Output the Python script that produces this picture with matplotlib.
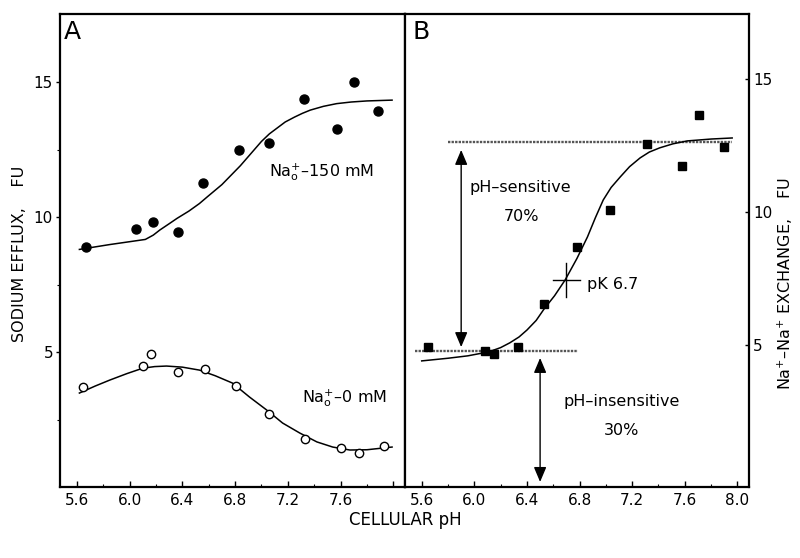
import matplotlib
matplotlib.use("Agg")
import matplotlib.pyplot as plt
from matplotlib.ticker import MultipleLocator, FixedLocator

plt.rcParams['font.family'] = ['DejaVu Sans']

# ---- Panel A data ----
a_na150_ph = [5.67, 6.05, 6.18, 6.37, 6.56, 6.83, 7.06, 7.32, 7.57, 7.70, 7.88]
a_na150_val = [8.89, 9.56, 9.81, 9.44, 11.27, 12.50, 12.76, 14.37, 13.26, 15.00, 13.94]
a_na150_fit_ph = [5.62, 5.85, 6.12, 6.18, 6.23, 6.30, 6.36, 6.45, 6.53, 6.59, 6.70, 6.78, 6.84, 6.92,
                  7.00, 7.06, 7.12, 7.18, 7.25, 7.31, 7.37, 7.47, 7.57, 7.68, 7.80, 7.99]
a_na150_fit_val = [8.80, 8.98, 9.17, 9.33, 9.52, 9.75, 9.95, 10.22, 10.50, 10.75, 11.20, 11.60, 11.90, 12.35,
                   12.80, 13.08, 13.30, 13.52, 13.70, 13.84, 13.96, 14.10, 14.20, 14.26, 14.30, 14.33]

a_na0_ph = [5.65, 6.10, 6.16, 6.37, 6.57, 6.81, 7.06, 7.33, 7.60, 7.74, 7.93]
a_na0_val = [3.70, 4.48, 4.93, 4.26, 4.37, 3.74, 2.70, 1.78, 1.44, 1.26, 1.52]
a_na0_fit_ph = [5.62, 5.74, 5.85, 5.98, 6.10, 6.19, 6.28, 6.40, 6.53, 6.65, 6.78, 6.91, 7.04, 7.16,
                7.29, 7.42, 7.54, 7.67, 7.80, 7.99]
a_na0_fit_val = [3.48, 3.74, 3.96, 4.20, 4.40, 4.46, 4.48, 4.44, 4.33, 4.12, 3.85, 3.33, 2.85, 2.37,
                 2.00, 1.67, 1.48, 1.37, 1.38, 1.48]

# ---- Panel B data ----
b_ph = [5.65, 6.08, 6.15, 6.33, 6.53, 6.78, 7.03, 7.31, 7.58, 7.71, 7.90]
b_val = [4.92, 4.77, 4.66, 4.92, 6.54, 8.68, 10.08, 12.56, 11.73, 13.65, 12.44]
b_fit_ph = [5.60, 5.80, 5.95, 6.11, 6.20, 6.27, 6.34, 6.40, 6.47, 6.53, 6.61, 6.69, 6.78, 6.86,
            6.92, 6.98, 7.04, 7.11, 7.18, 7.26, 7.33, 7.41, 7.51, 7.62, 7.80, 7.96]
b_fit_val = [4.40, 4.50, 4.59, 4.74, 4.90, 5.08, 5.30, 5.56, 5.92, 6.35, 6.85, 7.44, 8.25, 9.06,
             9.78, 10.45, 10.92, 11.32, 11.70, 12.03, 12.25, 12.41, 12.56, 12.67, 12.74, 12.78]
b_upper_level = 12.63
b_upper_range = [5.80, 7.96]
b_lower_level = 4.77
b_lower_range = [5.55, 6.79]
pk_ph, pk_val = 6.70, 7.44

x_major = [5.6, 6.0, 6.4, 6.8, 7.2, 7.6, 8.0]
x_labels_a = ["5.6", "6.0", "6.4", "6.8", "7.2", "7.6", ""]
x_labels_b = ["5.6", "6.0", "6.4", "6.8", "7.2", "7.6", "8.0"]
y_major = [5, 10, 15]
y_labels = ["5", "10", "15"]

fig = plt.figure(figsize=(8, 5.58), dpi=100)
W, H = 800, 558
def rect(l, r, t, b):
    return [l / W, 1 - b / H, (r - l) / W, (b - t) / H]

axA = fig.add_axes(rect(60, 405, 14, 487))
axB = fig.add_axes(rect(405, 749, 14, 487))

xlim = (5.473, 8.088)
for ax in (axA, axB):
    ax.set_xlim(*xlim)
    for s in ax.spines.values():
        s.set_linewidth(1.6)
    ax.set_xticks(x_major)
    ax.xaxis.set_minor_locator(MultipleLocator(0.2))
    ax.tick_params(axis='x', which='major', direction='in', length=4, width=1, labelsize=11, pad=4)
    ax.tick_params(axis='x', which='minor', direction='in', length=2.5, width=0.8)

axA.set_ylim(0, 17.52)
axB.set_ylim(-0.34, 17.44)

axA.set_xticklabels(x_labels_a)
axB.set_xticklabels(x_labels_b)

axA.set_yticks(y_major)
axA.set_yticklabels(y_labels)
axA.yaxis.set_minor_locator(FixedLocator([2.5, 7.5, 12.5]))
axA.tick_params(axis='y', which='major', direction='out', length=3, width=1, labelsize=11, pad=2)
axA.tick_params(axis='y', which='minor', direction='out', length=2, width=0.8)

axB.yaxis.tick_right()
axB.set_yticks(y_major)
axB.set_yticklabels(y_labels)
axB.tick_params(axis='y', which='major', direction='in', length=3, width=1, labelsize=11, pad=3,
                left=False, right=True, labelleft=False, labelright=True)

# Panel A
axA.plot(a_na150_fit_ph, a_na150_fit_val, color='black', lw=1.1)
axA.plot(a_na150_ph, a_na150_val, 'o', color='black', ms=6.5)
axA.plot(a_na0_fit_ph, a_na0_fit_val, color='black', lw=1.1)
axA.plot(a_na0_ph, a_na0_val, 'o', mfc='white', mec='black', mew=1.0, ms=6)
axA.text(7.06, 11.67, "Na$_{\\mathregular{o}}^{+}$\u2013150 mM", fontsize=11.5, va='center', ha='left')
axA.text(7.31, 3.3, "Na$_{\\mathregular{o}}^{+}$\u20130 mM", fontsize=11.5, va='center', ha='left')
axA.text(5.50, 17.3, "A", fontsize=18, va='top', ha='left')

# Panel B
dot = (0, (1, 0.5))
axB.plot(b_upper_range, [b_upper_level] * 2, color='#555555', lw=1.7, ls=dot)
axB.plot(b_lower_range, [b_lower_level] * 2, color='#555555', lw=1.7, ls=dot)
axB.plot(b_fit_ph, b_fit_val, color='black', lw=1.1)
axB.plot(b_ph, b_val, 's', color='black', ms=5.5)

arrow = dict(arrowstyle='<|-|>,head_length=0.9,head_width=0.38', color='black', lw=1.0,
             mutation_scale=10, shrinkA=0, shrinkB=0)
axB.annotate("", xy=(5.90, 12.33), xytext=(5.90, 4.92), arrowprops=arrow)
axB.annotate("", xy=(6.50, 4.51), xytext=(6.50, -0.15), arrowprops=arrow)

axB.plot([pk_ph - 0.1, pk_ph + 0.1], [pk_val, pk_val], color='black', lw=1.0)
axB.plot([pk_ph, pk_ph], [pk_val - 0.64, pk_val + 0.64], color='black', lw=1.0)

axB.text(5.96, 10.9, "pH\u2013sensitive", fontsize=11.5, va='center', ha='left')
axB.text(6.36, 9.81, "70%", fontsize=11.5, va='center', ha='center')
axB.text(6.86, 7.26, "pK 6.7", fontsize=11.5, va='center', ha='left')
axB.text(7.12, 2.86, "pH\u2013insensitive", fontsize=11.5, va='center', ha='center')
axB.text(7.12, 1.80, "30%", fontsize=11.5, va='center', ha='center')
axB.text(5.53, 17.2, "B", fontsize=18, va='top', ha='left')

# Axis titles
fig.text(405 / W, 1 - 520 / H, "CELLULAR pH", fontsize=12, ha='center', va='center')
fig.text(20 / W, 1 - 254 / H, "SODIUM EFFLUX,    FU", fontsize=11.5, rotation=90,
         ha='center', va='center')
fig.text(785 / W, 1 - 283 / H, "Na$^{+}$\u2013Na$^{+}$ EXCHANGE,    FU", fontsize=11.5, rotation=90,
         ha='center', va='center')

fig.savefig("out.png", dpi=100)
